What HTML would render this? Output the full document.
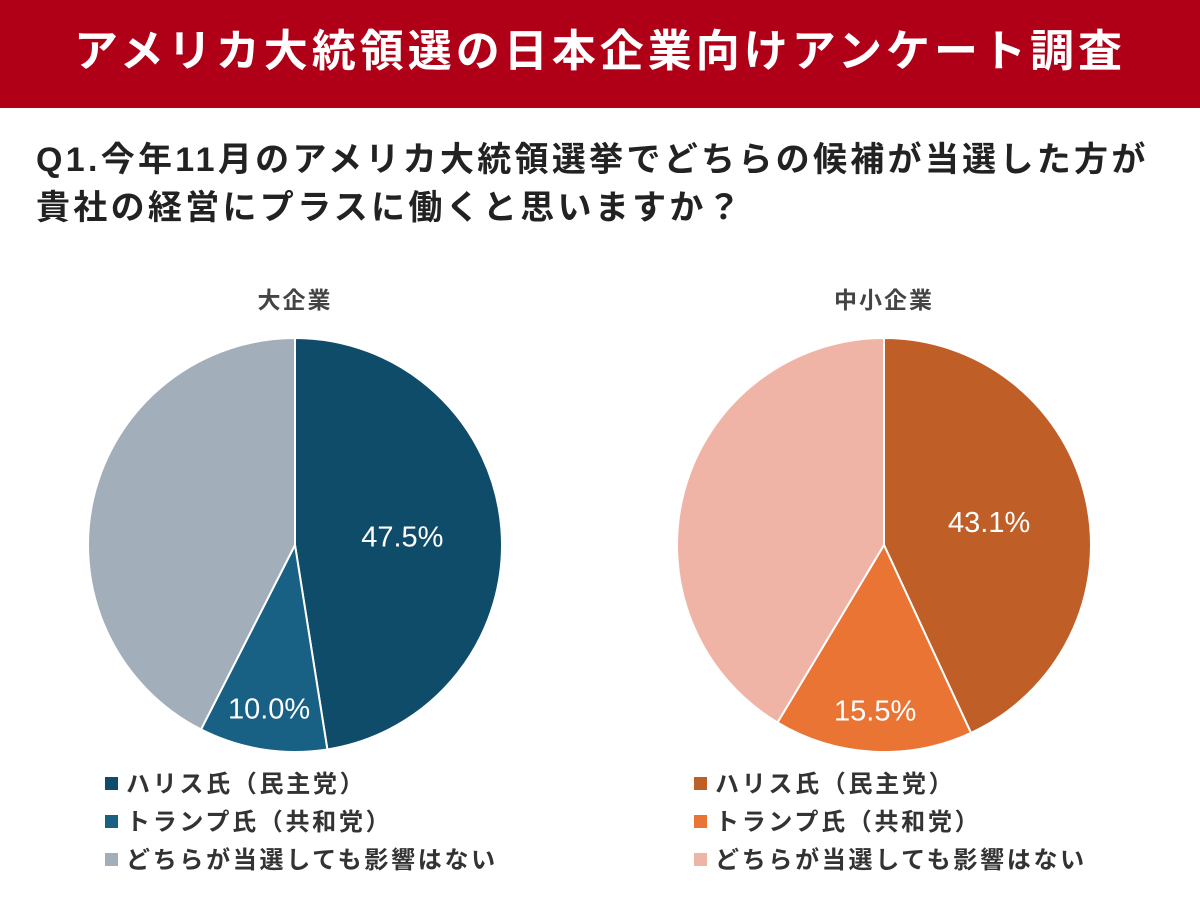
<!DOCTYPE html>
<html><head><meta charset="utf-8">
<style>
body{margin:0;width:1200px;height:900px;background:#fff;font-family:"Liberation Sans","Noto Sans CJK JP",sans-serif;overflow:hidden;position:relative}
.hdr{position:absolute;left:0;top:0;width:1200px;height:108px;background:#b00018;color:#fff;font-weight:bold;font-size:44px;text-align:center;line-height:104px;letter-spacing:4px}
.q{position:absolute;left:36px;top:136px;font-size:34px;font-weight:bold;color:#222;line-height:48px;letter-spacing:3.3px;white-space:nowrap}
.leg{position:absolute;font-size:24px;color:#333;line-height:38px;letter-spacing:2.7px;font-weight:bold;white-space:nowrap}
.leg div span{display:inline-block;width:13px;height:13px;margin-right:8px;vertical-align:2px}
</style></head><body>
<div class="hdr">アメリカ大統領選の日本企業向けアンケート調査</div>
<div class="q">Q1.今年11月のアメリカ大統領選挙でどちらの候補が当選した方が<br>貴社の経営にプラスに働くと思いますか？</div>
<svg id="chart" width="1200" height="900" style="position:absolute;left:0;top:0"></svg>
<div class="leg" style="left:105px;top:766px">
<div><span style="background:#0f4c6a"></span>ハリス氏（民主党）</div>
<div><span style="background:#186185"></span>トランプ氏（共和党）</div>
<div><span style="background:#a2afba"></span>どちらが当選しても影響はない</div>
</div>
<div class="leg" style="left:694px;top:766px">
<div><span style="background:#c05e28"></span>ハリス氏（民主党）</div>
<div><span style="background:#e97434"></span>トランプ氏（共和党）</div>
<div><span style="background:#f0b4a6"></span>どちらが当選しても影響はない</div>
</div>
<script>
const categories=["ハリス氏（民主党）","トランプ氏（共和党）","どちらが当選しても影響はない"];
const largeValues=[47.5,10.0,42.5];
const smallValues=[43.1,15.5,41.4];
const chartTitles=["大企業","中小企業"];
const svg=document.getElementById('chart');
const NS='http://www.w3.org/2000/svg';
function pie(cx,cy,r,vals,colors,title,nm){
  const t=document.createElementNS(NS,'text');
  t.setAttribute('x',cx);t.setAttribute('y',cy-237);t.setAttribute('text-anchor','middle');
  t.setAttribute('font-size','23');t.setAttribute('font-weight','bold');t.setAttribute('fill','#444');
  t.setAttribute('letter-spacing','2');
  t.textContent=title;
  
  
  svg.appendChild(t);
  const tot=vals.reduce((a,b)=>a+b,0);
  let acc=0;
  vals.forEach((v,i)=>{
    const a0=acc/tot*2*Math.PI;acc+=v;const a1=acc/tot*2*Math.PI;
    const x0=cx+r*Math.sin(a0),y0=cy-r*Math.cos(a0),x1=cx+r*Math.sin(a1),y1=cy-r*Math.cos(a1);
    const p=document.createElementNS(NS,'path');
    p.setAttribute('d',`M${cx},${cy}L${x0},${y0}A${r},${r} 0 ${(a1-a0)>Math.PI?1:0} 1 ${x1},${y1}Z`);
    p.setAttribute('fill',colors[i]);p.setAttribute('stroke','#fff');p.setAttribute('stroke-width','2');
    
    
    svg.appendChild(p);
  });
  acc=0;
  vals.forEach((v,i)=>{
    const am=(acc+v/2)/tot*2*Math.PI;acc+=v;
    if(i==2)return;
    const f=v>=20?0.52:0.8;
    const l=document.createElementNS(NS,'text');
    l.setAttribute('x',cx+f*r*Math.sin(am));l.setAttribute('y',cy-f*r*Math.cos(am)+10);
    l.setAttribute('text-anchor','middle');l.setAttribute('font-size','29');l.setAttribute('fill','#fff');
    l.textContent=v.toFixed(1)+'%';
    
    
    svg.appendChild(l);
  });
}
pie(295,545,207,largeValues,["#0f4c6a","#186185","#a2afba"],chartTitles[0],'large-pie');
pie(884,545,207,smallValues,["#c05e28","#e97434","#f0b4a6"],chartTitles[1],'small-pie');
</script>
</body></html>
